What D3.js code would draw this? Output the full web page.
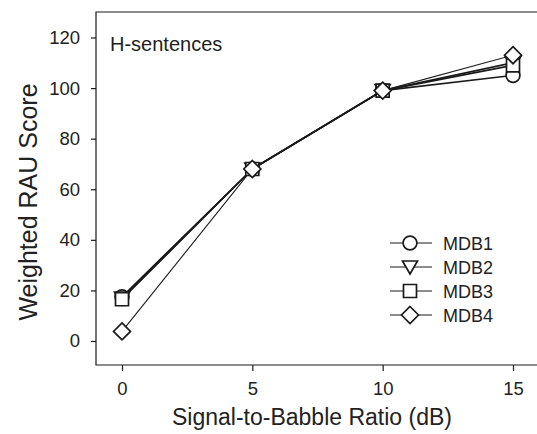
<!DOCTYPE html>
<html>
<head>
<meta charset="utf-8">
<script src="https://cdn.jsdelivr.net/npm/d3@7"></script>
<style>
  body { margin: 0; background: #fff; }
  svg { display: block; font-family: Arial, "Liberation Sans", sans-serif; }
</style>
</head>
<body>
<div id="chart"></div>
<script>
'use strict';

// Signal-to-babble ratio (dB) on the x axis
const snr = [0, 5, 10, 15];

// Weighted RAU scores per condition
const mdb1 = [17.5, 68, 99, 105];
const mdb2 = [17, 68, 99, 110];
const mdb3 = [16.5, 68, 99, 109];
const mdb4 = [3.8, 68, 99, 113];

const seriesNames = ["MDB1", "MDB2", "MDB3", "MDB4"];
const seriesValues = [mdb1, mdb2, mdb3, mdb4];
const seriesSymbols = ["circle", "triangle", "square", "diamond"];

const xTicks = [0, 5, 10, 15];
const yTicks = [0, 20, 40, 60, 80, 100, 120];

const width = 537;
const height = 434;
const frame = {left: 96, top: 12, right: 540, bottom: 365};

const svg = d3.select("#chart").append("svg")
    .attr("width", width)
    .attr("height", height);

const x = d3.scaleLinear().domain([0, 15]).range([122, 513]);
const y = d3.scaleLinear().domain([0, 120]).range([341, 37.5]);

const ink = "#1a1a1a";

// Frame (left, top, bottom)
svg.append("path")
    .attr("d", `M${frame.right},${frame.top}H${frame.left}V${frame.bottom}H${frame.right}`)
    .attr("fill", "none")
    .attr("stroke", ink)
    .attr("stroke-width", 1.2);

// Axes with outward ticks
const yAxis = svg.append("g")
    .attr("transform", `translate(${frame.left},0)`)
    .call(d3.axisLeft(y).tickValues(yTicks).tickSize(5).tickPadding(11));
yAxis.select(".domain").remove();

const xAxis = svg.append("g")
    .attr("transform", `translate(0,${frame.bottom})`)
    .call(d3.axisBottom(x).tickValues(xTicks).tickSize(6).tickPadding(11));
xAxis.select(".domain").remove();

svg.selectAll(".tick line").attr("stroke", ink).attr("stroke-width", 1.2);
svg.selectAll(".tick text")
    .attr("fill", "#222")
    .style("font-size", "18.5px")
    .style("font-family", "Arial, 'Liberation Sans', sans-serif");

// Axis titles
svg.append("text")
    .attr("transform", "translate(37,202) rotate(-90)")
    .attr("text-anchor", "middle")
    .attr("fill", "#222")
    .style("font-size", "25px")
    .text("Weighted RAU Score");

svg.append("text")
    .attr("x", 312)
    .attr("y", 425)
    .attr("text-anchor", "middle")
    .attr("fill", "#222")
    .style("font-size", "23px")
    .text("Signal-to-Babble Ratio (dB)");

svg.append("text")
    .attr("x", 110)
    .attr("y", 51)
    .attr("fill", "#222")
    .style("font-size", "20px")
    .text("H-sentences");

// Marker shapes drawn as paths centred on 0,0
function marker(sym) {
  if (sym === "circle") return d3.symbol(d3.symbolCircle, 150)();
  if (sym === "square") return "M-6.5,-6.5H6.5V6.5H-6.5Z";
  if (sym === "triangle") return "M-7.5,-6L7.5,-6L0,7Z";
  return "M0,-8.5L8.5,0L0,8.5L-8.5,0Z";
}

const line = d3.line()
    .x((d, i) => x(snr[i]))
    .y(d => y(d));

// Lines first, then markers on top, drawn in series order
seriesValues.forEach((vals, s) => {
  svg.append("path")
      .attr("d", line(vals))
      .attr("fill", "none")
      .attr("stroke", ink)
      .attr("stroke-width", s === 3 ? 1.1 : 1.6);
});

seriesValues.forEach((vals, s) => {
  svg.append("g").selectAll("path")
    .data(vals)
    .join("path")
      .attr("transform", (d, i) => `translate(${x(snr[i])},${y(d)})`)
      .attr("d", marker(seriesSymbols[s]))
      .attr("fill", "#fff")
      .attr("stroke", ink)
      .attr("stroke-width", 1.7);
});

// Legend
const legend = svg.append("g");
seriesNames.forEach((name, s) => {
  const ly = 243 + s * 24;
  legend.append("line")
      .attr("x1", 390).attr("x2", 432)
      .attr("y1", ly).attr("y2", ly)
      .attr("stroke", ink)
      .attr("stroke-width", 1.2);
  legend.append("path")
      .attr("transform", `translate(410,${ly})`)
      .attr("d", marker(seriesSymbols[s]))
      .attr("fill", "#fff")
      .attr("stroke", ink)
      .attr("stroke-width", 1.7);
  legend.append("text")
      .attr("x", 443)
      .attr("y", ly + 6.5)
      .attr("fill", "#222")
      .style("font-size", "18px")
      .text(name);
});
</script>
</body>
</html>
